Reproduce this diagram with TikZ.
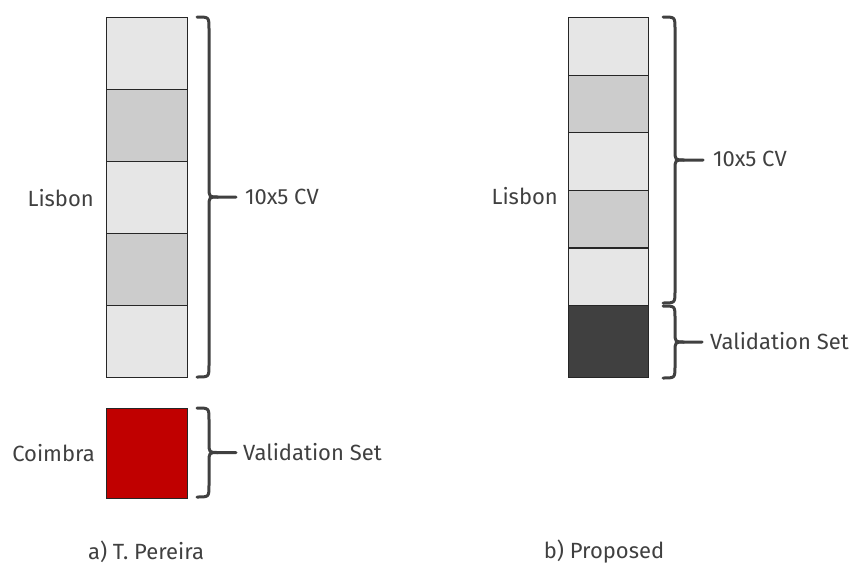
\documentclass[tikz,border=0pt]{standalone}
\usepackage{fontspec}
\setmainfont{Fira Sans}
\definecolor{txt}{HTML}{404040}
\definecolor{lightcell}{HTML}{E6E6E6}
\definecolor{midcell}{HTML}{CCCCCC}
\definecolor{darkcell}{HTML}{404040}
\definecolor{redcell}{HTML}{C00000}
\tikzset{
  cell/.style={draw=black!85, line width=1.1pt, inner sep=0pt, anchor=north west,
    minimum width=81, minimum height=72},
  label/.style={text=txt, font=\fontsize{22}{26}\selectfont, inner sep=0pt},
  bracestyle/.style={draw=txt, line width=3pt, line cap=round, line join=round},
}
% vertical curly brace: start x, top y, bottom y, end x of the stem
\newcommand{\vbrace}[4]{%
  \pgfmathsetmacro\bm{(#2+#3)/2}%
  \draw[bracestyle] (#1,#2) .. controls (#1+12,#2) .. (#1+12,#2+12)
     -- (#1+12,\bm-10) .. controls (#1+12,\bm) .. (#1+21,\bm) -- (#4,\bm);
  \draw[bracestyle] (#1,#3) .. controls (#1+12,#3) .. (#1+12,#3-12)
     -- (#1+12,\bm+10) .. controls (#1+12,\bm) .. (#1+21,\bm);
}
\begin{document}
\begin{tikzpicture}[x=1pt,y=-1pt]
\useasboundingbox (0,0) rectangle (853,568);

% a) T. Pereira: Lisbon folds and Coimbra validation set
\node[cell, fill=lightcell] (a1) at (106,17) {};
\node[cell, fill=midcell]   (a2) at (106,89) {};
\node[cell, fill=lightcell] (a3) at (106,161) {};
\node[cell, fill=midcell]   (a4) at (106,233) {};
\node[cell, fill=lightcell] (a5) at (106,305) {};
\node[cell, fill=redcell, minimum height=90] (av) at (106,408) {};

\node[label, anchor=east] (alis) at (94,198) {Lisbon};
\node[label, anchor=east] (acoi) at (95,453) {Coimbra};

\vbrace{197}{17}{377}{236}
\vbrace{197}{408}{497}{236}
\node[label, anchor=west] (acv) at (245,197) {10x5 CV};
\node[label, anchor=west] (aval) at (243,452) {Validation Set};

\node[label] (acap) at (146,552) {a) T. Pereira};

% b) Proposed: Lisbon split into CV folds and a held-out block
\node[cell, fill=lightcell, minimum width=80, minimum height=57.6] (b1) at (568,17) {};
\node[cell, fill=midcell,   minimum width=80, minimum height=57.6] (b2) at (568,74.6) {};
\node[cell, fill=lightcell, minimum width=80, minimum height=57.6] (b3) at (568,132.2) {};
\node[cell, fill=midcell,   minimum width=80, minimum height=57.6] (b4) at (568,189.8) {};
\node[cell, fill=lightcell, minimum width=80, minimum height=57.6] (b5) at (568,247.4) {};
\node[cell, fill=darkcell,  minimum width=80, minimum height=72]   (bv) at (568,305) {};

\node[label, anchor=east] (blis) at (558,196) {Lisbon};

\vbrace{663}{17}{303}{703}
\vbrace{663}{306}{378}{702}
\node[label, anchor=west] (bcv) at (713,159) {10x5 CV};
\node[label, anchor=west] (bval) at (710,341) {Validation Set};

\node[label] (bcap) at (604,552) {b) Proposed};
\end{tikzpicture}
\end{document}
